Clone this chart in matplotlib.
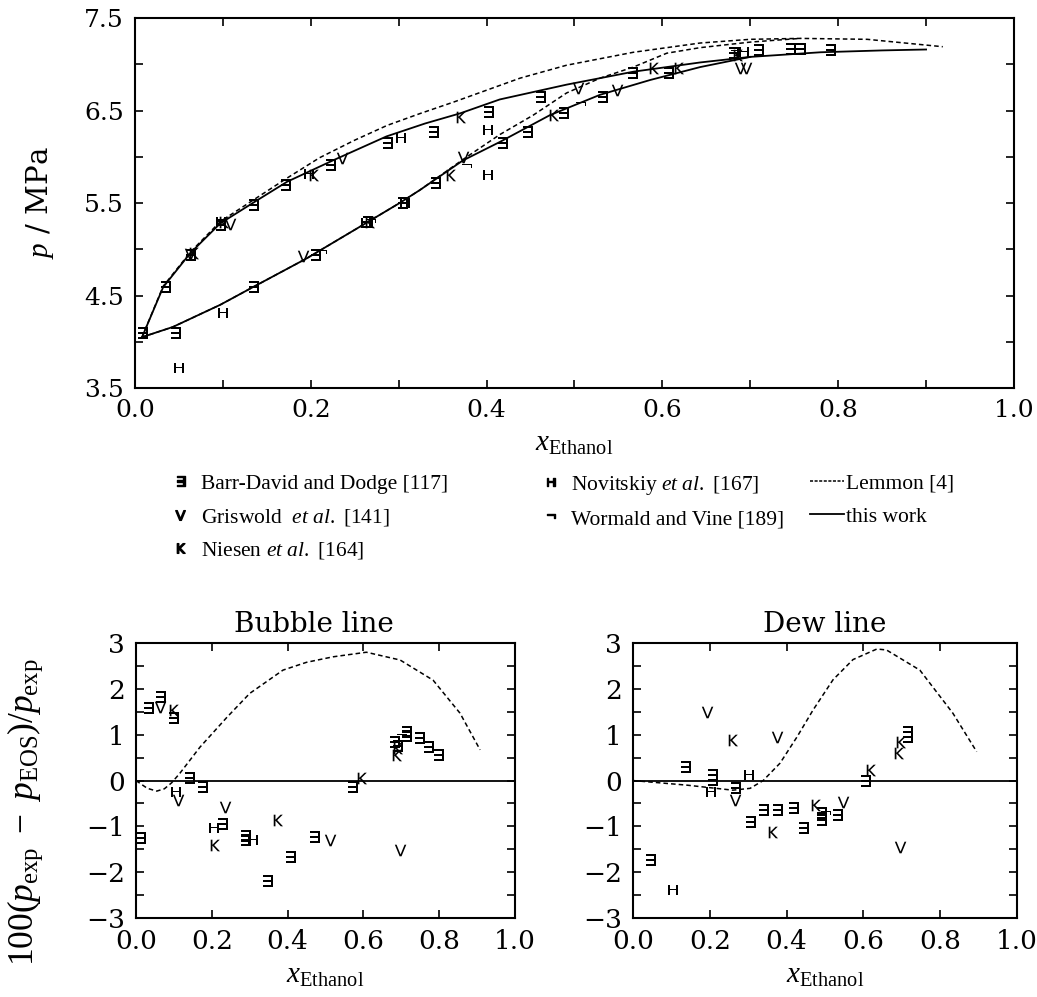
import numpy as np
import matplotlib
matplotlib.use('Agg')
import matplotlib.pyplot as plt
from matplotlib.lines import Line2D
from matplotlib.path import Path
from matplotlib.textpath import TextPath
from matplotlib.font_manager import FontProperties

plt.rcParams['font.family'] = 'DejaVu Serif'
plt.rcParams['mathtext.fontset'] = 'custom'
plt.rcParams['mathtext.rm'] = 'Liberation Serif'
plt.rcParams['mathtext.it'] = 'Liberation Serif:italic'

# ---- phase envelope (top) ----
work_up_x = [0.008, 0.032, 0.063, 0.097, 0.139, 0.173, 0.225, 0.286, 0.33, 0.37, 0.415, 0.491, 0.567, 0.643, 0.70, 0.78, 0.85, 0.90]
work_up_p = [4.05, 4.59, 4.96, 5.28, 5.53, 5.73, 5.96, 6.22, 6.36, 6.47, 6.62, 6.78, 6.92, 7.02, 7.08, 7.13, 7.15, 7.16]
work_lo_x = [0.008, 0.043, 0.097, 0.134, 0.195, 0.264, 0.301, 0.324, 0.373, 0.415, 0.472, 0.529, 0.586, 0.643, 0.70]
work_lo_p = [4.05, 4.16, 4.40, 4.59, 4.90, 5.29, 5.50, 5.64, 5.96, 6.16, 6.45, 6.67, 6.83, 6.97, 7.08]
lem_up_x = [0.008, 0.032, 0.063, 0.097, 0.139, 0.173, 0.21, 0.25, 0.287, 0.325, 0.362, 0.40, 0.438, 0.491, 0.567, 0.643, 0.70, 0.757, 0.833, 0.919]
lem_up_p = [4.05, 4.60, 4.97, 5.30, 5.56, 5.77, 5.99, 6.18, 6.34, 6.47, 6.59, 6.72, 6.85, 6.99, 7.13, 7.23, 7.27, 7.28, 7.27, 7.19]
lem_lo_x = [0.008, 0.043, 0.097, 0.134, 0.195, 0.264, 0.301, 0.324, 0.373, 0.415, 0.453, 0.491, 0.529, 0.567, 0.605, 0.643, 0.70, 0.757]
lem_lo_p = [4.05, 4.16, 4.40, 4.59, 4.90, 5.29, 5.50, 5.64, 5.97, 6.24, 6.45, 6.69, 6.85, 6.97, 7.12, 7.18, 7.24, 7.28]

# experimental data (top)
bd_x = [0.008, 0.046, 0.034, 0.063, 0.097, 0.134, 0.171, 0.134, 0.205, 0.264, 0.304, 0.341, 0.222, 0.287, 0.339, 0.402, 0.417, 0.461, 0.446, 0.487, 0.531, 0.565, 0.606, 0.680, 0.709, 0.745, 0.757, 0.791]
bd_p = [4.10, 4.09, 4.59, 4.94, 5.26, 5.48, 5.70, 4.59, 4.94, 5.29, 5.50, 5.72, 5.91, 6.15, 6.27, 6.48, 6.15, 6.65, 6.27, 6.47, 6.65, 6.91, 6.91, 7.12, 7.15, 7.16, 7.16, 7.15]
gr_x = [0.063, 0.108, 0.191, 0.235, 0.373, 0.504, 0.548, 0.688, 0.695]
gr_p = [4.95, 5.27, 4.93, 5.99, 6.00, 6.74, 6.72, 6.96, 6.96]
ni_x = [0.066, 0.100, 0.203, 0.266, 0.370, 0.358, 0.476, 0.589, 0.618, 0.685]
ni_p = [4.96, 5.29, 5.80, 5.30, 6.43, 5.80, 6.45, 6.96, 6.96, 7.10]
no_x = [0.049, 0.099, 0.197, 0.097, 0.301, 0.400, 0.400, 0.306, 0.262, 0.692]
no_p = [3.72, 4.31, 5.81, 5.30, 6.20, 6.29, 5.80, 5.50, 5.28, 7.13]
wo_x = [0.377, 0.506, 0.212, 0.267, 0.683]
wo_p = [5.89, 6.56, 4.96, 5.30, 7.12]

# ---- deviations, bubble line ----
bub_lem_x = [0.0, 0.03, 0.055, 0.075, 0.094, 0.116, 0.169, 0.24, 0.30, 0.388, 0.45, 0.52, 0.608, 0.697, 0.784, 0.855, 0.908]
bub_lem_d = [0.0, -0.17, -0.23, -0.18, -0.05, 0.16, 0.73, 1.38, 1.90, 2.41, 2.58, 2.70, 2.80, 2.63, 2.19, 1.47, 0.67]
bub_bd_x = [0.011, 0.032, 0.063, 0.098, 0.14, 0.174, 0.226, 0.288, 0.288, 0.345, 0.407, 0.47, 0.57, 0.681, 0.69, 0.712, 0.712, 0.747, 0.77, 0.797]
bub_bd_d = [-1.26, 1.58, 1.82, 1.36, 0.05, -0.14, -0.95, -1.30, -1.22, -2.20, -1.67, -1.23, -0.14, 0.84, 0.75, 1.06, 0.98, 0.92, 0.74, 0.55]
bub_gr_x = [0.063, 0.111, 0.235, 0.512, 0.697]
bub_gr_d = [1.61, -0.43, -0.58, -1.30, -1.52]
bub_ni_x = [0.098, 0.205, 0.371, 0.593, 0.686, 0.69]
bub_ni_d = [1.54, -1.41, -0.86, 0.05, 0.56, 0.72]
bub_no_x = [0.103, 0.204, 0.305, 0.40]
bub_no_d = [-0.25, -1.04, -1.30, -3.1]
bub_wo_x = [0.226, 0.70]
bub_wo_d = [-0.88, 0.95]

# ---- deviations, dew line ----
dew_lem_x = [0.0, 0.14, 0.26, 0.305, 0.339, 0.383, 0.427, 0.469, 0.521, 0.573, 0.635, 0.66, 0.747, 0.833, 0.895]
dew_lem_d = [0.0, -0.10, -0.21, -0.17, 0.0, 0.38, 0.95, 1.54, 2.20, 2.64, 2.87, 2.85, 2.41, 1.47, 0.63]
dew_bd_x = [0.044, 0.135, 0.205, 0.205, 0.265, 0.305, 0.339, 0.375, 0.417, 0.443, 0.49, 0.49, 0.531, 0.604, 0.713, 0.713, 0.76, 0.79]
dew_bd_d = [-1.73, 0.30, 0.12, 0.02, -0.17, -0.91, -0.64, -0.64, -0.60, -1.04, -0.71, -0.86, -0.75, 0.0, 1.05, 0.95, -3.1, -3.1]
dew_gr_x = [0.192, 0.375, 0.265, 0.547, 0.695]
dew_gr_d = [1.50, 0.95, -0.43, -0.47, -1.45]
dew_ni_x = [0.257, 0.362, 0.474, 0.617, 0.695, 0.69]
dew_ni_d = [0.88, -1.12, -0.53, 0.22, 0.84, 0.60]
dew_no_x = [0.299, 0.2, 0.101, 0.05, 0.40]
dew_no_d = [0.12, -0.25, -2.38, -3.1, -3.1]
dew_wo_x = [0.50, 0.604, 0.69, 0.75]
dew_wo_d = [-0.72, -0.08, -3.05, -3.05]

labels = ['Barr-David and Dodge [117]', r'Griswold  $\mathit{et\ al.}$ [141]', r'Niesen $\mathit{et\ al.}$ [164]',
          r'Novitskiy $\mathit{et\ al.}$ [167]', 'Wormald and Vine [189]', 'Lemmon [4]', 'this work']
glyphs = ['\u2203', 'V', '\u0138', 'H', '\u00ac']
aspects = [0.95, 1.0, 0.95, 1.15, None]


def glyph_marker(ch, aspect):
    # glyph outline as marker path, centred and stretched to the wanted width/height ratio
    tp = TextPath((0, 0), ch, size=1, prop=FontProperties(family='DejaVu Sans'))
    v = tp.vertices.copy()
    v -= (v.min(axis=0) + v.max(axis=0)) / 2
    if aspect is not None:
        w, hgt = v.max(axis=0) - v.min(axis=0)
        v[:, 0] *= aspect * hgt / w
    return Path(v, tp.codes)


markers = [glyph_marker(g, a) for g, a in zip(glyphs, aspects)]
msize = 70


def style_axes(ax, fs):
    for s in ax.spines.values():
        s.set_linewidth(1.5)
    ax.tick_params(which='both', direction='in', top=True, right=True,
                   length=6, width=1.2, labelsize=fs, pad=8)


fig = plt.figure(figsize=(10.37, 9.97), dpi=100)

# top panel
ax = fig.add_axes([0.1302, 0.6108, 0.8476, 0.3711])
ax.plot(lem_up_x, lem_up_p, 'k--', lw=1.1, dashes=(3, 2))
ax.plot(lem_lo_x, lem_lo_p, 'k--', lw=1.1, dashes=(3, 2))
ax.plot(work_up_x, work_up_p, 'k-', lw=1.3)
ax.plot(work_lo_x, work_lo_p, 'k-', lw=1.3)
for (xs, ys), m in zip([(bd_x, bd_p), (gr_x, gr_p), (ni_x, ni_p), (no_x, no_p), (wo_x, wo_p)], markers):
    ax.scatter(xs, ys, marker=m, s=msize, c='k', linewidths=0)
ax.set_xlim(0, 1)
ax.set_ylim(3.5, 7.5)
ax.set_xticks(np.arange(0, 1.01, 0.2))
ax.set_xticks(np.arange(0.1, 1.0, 0.2), minor=True)
ax.set_yticks([3.5, 4.5, 5.5, 6.5, 7.5])
ax.set_yticks([4.0, 5.0, 6.0, 7.0], minor=True)
style_axes(ax, 18)
ax.set_xlabel(r'$x_{\mathrm{Ethanol}}$', fontsize=21, labelpad=5)
ax.set_ylabel(r'$p$ / MPa', fontsize=21, labelpad=20)

# legend
h = [Line2D([], [], ls='none', marker=m, color='k', markersize=7) for m in markers]
h += [Line2D([], [], ls='--', color='k', lw=1.1, dashes=(2, 1)), Line2D([], [], ls='-', color='k', lw=1.3)]
leg_kw = dict(frameon=False, prop={'family': 'Liberation Serif', 'size': 15.5},
              labelspacing=0.6, loc='upper left', borderaxespad=0, borderpad=0)
fig.legend(h[0:3], labels[0:3], bbox_to_anchor=(0.165, 0.525), handlelength=0.8, handletextpad=0.6, **leg_kw)
fig.legend(h[3:5], labels[3:5], bbox_to_anchor=(0.522, 0.525), handlelength=0.8, handletextpad=0.6, **leg_kw)
fig.legend(h[5:7], labels[5:7], bbox_to_anchor=(0.781, 0.525), handlelength=1.6, handletextpad=0.1, **leg_kw)

# bottom panels
panels = [
    ([0.1311, 0.0792, 0.3655, 0.2758], 'Bubble line', bub_lem_x, bub_lem_d,
     [(bub_bd_x, bub_bd_d), (bub_gr_x, bub_gr_d), (bub_ni_x, bub_ni_d), (bub_no_x, bub_no_d), (bub_wo_x, bub_wo_d)]),
    ([0.6104, 0.0792, 0.3703, 0.2758], 'Dew line', dew_lem_x, dew_lem_d,
     [(dew_bd_x, dew_bd_d), (dew_gr_x, dew_gr_d), (dew_ni_x, dew_ni_d), (dew_no_x, dew_no_d), (dew_wo_x, dew_wo_d)]),
]
for i, (rect, title, lx, ld, sets) in enumerate(panels):
    b = fig.add_axes(rect)
    b.axhline(0, color='k', lw=1.3)
    b.plot(lx, ld, 'k--', lw=1.1, dashes=(3, 2))
    for (xs, ys), m in zip(sets, markers):
        b.scatter(xs, ys, marker=m, s=msize, c='k', linewidths=0)
    b.set_xlim(0, 1)
    b.set_ylim(-3, 3)
    b.set_xticks(np.arange(0, 1.01, 0.2))
    b.set_yticks(np.arange(-3, 3.1, 1))
    b.set_yticks(np.arange(-2.5, 3, 1), minor=True)
    style_axes(b, 19)
    b.set_title(title, fontsize=20, pad=8, x=0.47 if i == 0 else 0.5)
    b.set_xlabel(r'$x_{\mathrm{Ethanol}}$', fontsize=21, labelpad=5)
    if i == 0:
        b.set_ylabel(r'$100(p_{\mathrm{exp}}\ -\ p_{\mathrm{EOS}})/p_{\mathrm{exp}}$', fontsize=25.5)
        b.yaxis.set_label_coords(-0.24, 0.385)

fig.savefig('out.png', dpi=100)
